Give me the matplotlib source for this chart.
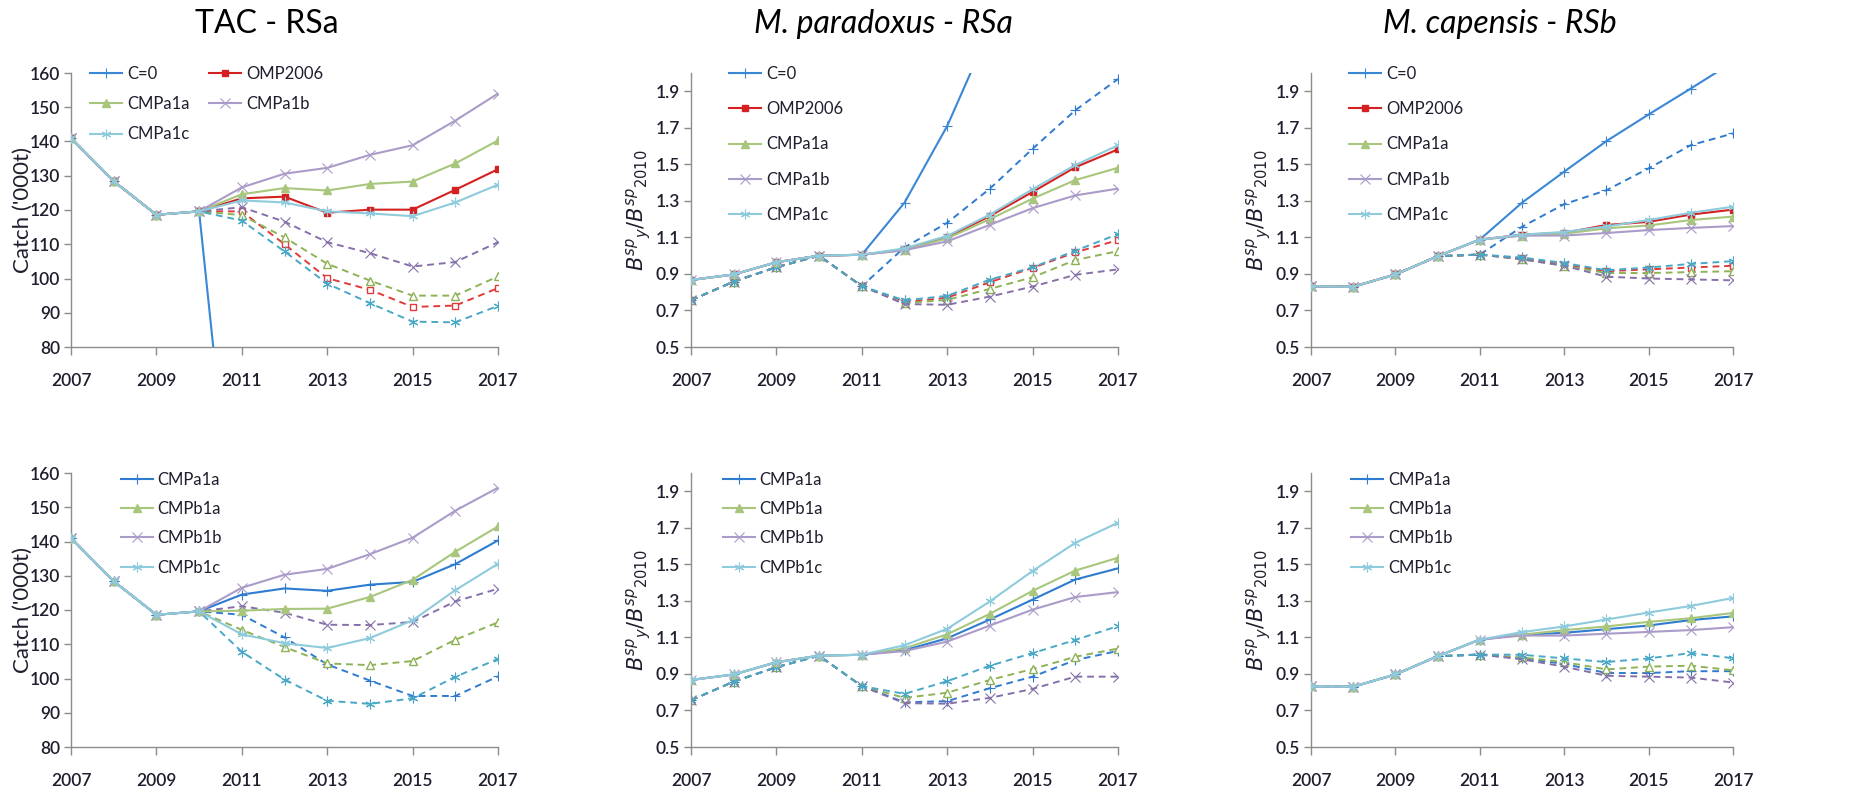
import matplotlib
matplotlib.use("Agg")
import matplotlib.pyplot as plt
from matplotlib.lines import Line2D

plt.rcParams["font.family"] = ["Lato", "DejaVu Sans"]

years = list(range(2007, 2018))

# ---- catch (TAC) ----
catch_hist = [141.0, 128.4, 118.6, 119.6]
catch_top_solid = {
    "C=0": [0, 0, 0, 0, 0, 0, 0],
    "OMP2006": [123.4, 123.9, 119.2, 120.1, 120.1, 125.9, 131.9],
    "CMPa1a": [124.6, 126.4, 125.7, 127.6, 128.3, 133.6, 140.3],
    "CMPa1b": [126.6, 130.6, 132.3, 136.1, 138.9, 146.1, 154.0],
    "CMPa1c": [122.8, 122.2, 119.6, 119.0, 118.2, 122.2, 127.4],
}
catch_top_dashed = {
    "OMP2006": [119.6, 110.0, 100.1, 96.7, 91.7, 92.1, 97.2],
    "CMPa1a": [118.5, 112.0, 104.3, 99.4, 95.0, 95.0, 100.6],
    "CMPa1b": [120.8, 116.6, 110.6, 107.4, 103.5, 104.8, 110.6],
    "CMPa1c": [116.9, 107.9, 98.5, 92.8, 87.4, 87.2, 92.0],
}
catch_bot_solid = {
    "CMPa1a": [124.5, 126.3, 125.6, 127.4, 128.2, 133.4, 140.3],
    "CMPb1a": [119.8, 120.3, 120.4, 123.8, 128.8, 137.0, 144.4],
    "CMPb1b": [126.5, 130.3, 132.0, 136.3, 141.1, 149.0, 155.7],
    "CMPb1c": [112.9, 110.3, 108.9, 111.8, 117.0, 125.8, 133.5],
}
catch_bot_dashed = {
    "CMPa1a": [118.6, 112.0, 104.1, 99.4, 94.9, 94.9, 100.6],
    "CMPb1a": [114.2, 109.2, 104.4, 103.9, 105.1, 111.3, 116.4],
    "CMPb1b": [121.1, 119.2, 115.7, 115.6, 116.5, 122.5, 126.2],
    "CMPb1c": [107.8, 99.7, 93.5, 92.6, 94.2, 100.5, 105.7],
}

# ---- M. paradoxus ----
para_hist_a = [0.867, 0.897, 0.964, 1.0, 1.005]
para_hist_b = [0.756, 0.858, 0.937, 1.0, 0.833]
para_top_solid = {
    "C=0": [1.29, 1.71, 2.24, 2.80, 3.30, 3.80],
    "OMP2006": [1.035, 1.10, 1.217, 1.349, 1.484, 1.582],
    "CMPa1a": [1.03, 1.095, 1.20, 1.312, 1.414, 1.481],
    "CMPa1b": [1.03, 1.078, 1.169, 1.26, 1.33, 1.367],
    "CMPa1c": [1.04, 1.108, 1.225, 1.364, 1.496, 1.604],
}
para_top_dashed = {
    "C=0": [1.045, 1.18, 1.367, 1.585, 1.796, 1.967],
    "OMP2006": [0.745, 0.77, 0.855, 0.933, 1.018, 1.085],
    "CMPa1a": [0.74, 0.758, 0.818, 0.882, 0.976, 1.025],
    "CMPa1b": [0.735, 0.731, 0.776, 0.831, 0.895, 0.925],
    "CMPa1c": [0.755, 0.78, 0.869, 0.936, 1.027, 1.118],
}
para_bot_solid = {
    "CMPa1a": [1.03, 1.095, 1.198, 1.307, 1.417, 1.478],
    "CMPb1a": [1.04, 1.117, 1.229, 1.355, 1.466, 1.536],
    "CMPb1b": [1.025, 1.077, 1.165, 1.252, 1.321, 1.348],
    "CMPb1c": [1.057, 1.147, 1.297, 1.464, 1.618, 1.728],
}
para_bot_dashed = {
    "CMPa1a": [0.745, 0.751, 0.822, 0.885, 0.976, 1.026],
    "CMPb1a": [0.769, 0.797, 0.867, 0.927, 0.994, 1.039],
    "CMPb1b": [0.74, 0.737, 0.769, 0.818, 0.885, 0.885],
    "CMPb1c": [0.791, 0.86, 0.945, 1.014, 1.086, 1.162],
}

# ---- M. capensis ----
cap_hist_a = [0.832, 0.830, 0.897, 0.997, 1.088]
cap_hist_b = [0.832, 0.830, 0.897, 0.997, 1.006]
cap_top_solid = {
    "C=0": [1.29, 1.46, 1.627, 1.773, 1.915, 2.06],
    "OMP2006": [1.115, 1.125, 1.168, 1.185, 1.225, 1.252],
    "CMPa1a": [1.11, 1.12, 1.15, 1.165, 1.195, 1.214],
    "CMPa1b": [1.11, 1.11, 1.124, 1.14, 1.152, 1.162],
    "CMPa1c": [1.115, 1.13, 1.16, 1.195, 1.235, 1.268],
}
cap_top_dashed = {
    "C=0": [1.158, 1.282, 1.358, 1.478, 1.605, 1.669],
    "OMP2006": [0.985, 0.95, 0.915, 0.925, 0.935, 0.945],
    "CMPa1a": [0.98, 0.945, 0.905, 0.905, 0.91, 0.915],
    "CMPa1b": [0.98, 0.945, 0.885, 0.875, 0.87, 0.865],
    "CMPa1c": [0.99, 0.96, 0.92, 0.935, 0.955, 0.97],
}
cap_bot_solid = {
    "CMPa1a": [1.115, 1.125, 1.145, 1.165, 1.195, 1.215],
    "CMPb1a": [1.115, 1.14, 1.16, 1.185, 1.205, 1.234],
    "CMPb1b": [1.11, 1.11, 1.12, 1.13, 1.14, 1.156],
    "CMPb1c": [1.129, 1.16, 1.198, 1.236, 1.272, 1.316],
}
cap_bot_dashed = {
    "CMPa1a": [0.985, 0.955, 0.905, 0.905, 0.915, 0.915],
    "CMPb1a": [0.99, 0.965, 0.925, 0.94, 0.945, 0.92],
    "CMPb1b": [0.98, 0.94, 0.89, 0.885, 0.88, 0.853],
    "CMPb1c": [1.005, 0.985, 0.965, 0.985, 1.014, 0.986],
}

titles = ["TAC - RSa", "M. paradoxus - RSa", "M. capensis - RSb"]

# style per series name: (solid colour, dashed colour, marker)
asterisk = (6, 2, 0)
STYLE = {
    "C=0": ("#3a87d6", "#2f7bd0", "+"),
    "OMP2006": ("#d42020", "#e03a3a", "s"),
    "CMPa1a": ("#a8c67c", "#8fb256", "^"),
    "CMPa1b": ("#ab9bc9", "#8670a9", "x"),
    "CMPa1c": ("#8ecbdc", "#48a8c6", asterisk),
}
STYLE_BOT = {
    "CMPa1a": ("#2e7cd0", "#2f7bd0", "+"),
    "CMPb1a": ("#a8c67c", "#8fb256", "^"),
    "CMPb1b": ("#ab9bc9", "#8670a9", "x"),
    "CMPb1c": ("#8ecbdc", "#48a8c6", asterisk),
}
HOLLOW = {"s", "^"}

TEXT_C = "#1e1e2e"
SPINE_C = "#8c8c8c"

fig = plt.figure(figsize=(18.68, 7.92), dpi=100)

lefts = [71, 691, 1311]
widths = [427, 427, 422]
tops = [73, 473]
height = 274
W, H = 1868, 792


def marker_kw(mk, col, fc):
    if mk == "s":
        return dict(marker=mk, ms=4.5, mfc=fc, mec=col, mew=1.0)
    if mk == "^":
        return dict(marker=mk, ms=6, mfc=fc, mec=col, mew=1.0)
    return dict(marker=mk, ms=7, mfc=col, mec=col, mew=0.8)


def draw_panel(ax, hist_solid, hist_dashed, solid, dashed, style, ylim, yticks, fmt):
    handles = []
    for name, vals in dashed.items():
        _, col, mk = style[name]
        fc = "white" if mk in HOLLOW else col
        ax.plot(years, hist_dashed + vals, color=col, lw=1.4, ls=(0, (3.5, 2.5)),
                zorder=2, **marker_kw(mk, col, fc))
    for name, vals in solid.items():
        col, _, mk = style[name]
        ax.plot(years, hist_solid + vals, color=col, lw=1.5, zorder=3,
                **marker_kw(mk, col, col))
        handles.append(Line2D([], [], color=col, lw=1.5, **marker_kw(mk, col, col)))
    ax.set_xlim(2007, 2017)
    ax.set_ylim(*ylim)
    ax.set_xticks(range(2007, 2018, 2))
    ax.set_yticks(yticks)
    ax.set_yticklabels([fmt.format(v) for v in yticks])
    for s in ["top", "right"]:
        ax.spines[s].set_visible(False)
    for s in ["left", "bottom"]:
        ax.spines[s].set_color(SPINE_C)
        ax.spines[s].set_linewidth(1.0)
    ax.tick_params(axis="x", direction="out", length=6, width=1.0, color=SPINE_C,
                   labelsize=12.5, labelcolor=TEXT_C, pad=13)
    ax.tick_params(axis="y", direction="out", length=5, width=1.0, color=SPINE_C,
                   labelsize=12.5, labelcolor=TEXT_C, pad=3)
    for lab in ax.get_xticklabels() + ax.get_yticklabels():
        lab.set_fontweight("semibold")
    return handles


for row in range(2):
    for col in range(3):
        rect = [lefts[col] / W, 1 - (tops[row] + height) / H, widths[col] / W, height / H]
        ax = fig.add_axes(rect)
        if col == 0:
            yt = list(range(80, 161, 10))
            if row == 0:
                h = draw_panel(ax, catch_hist, catch_hist, catch_top_solid, catch_top_dashed,
                               STYLE, (80, 160), yt, "{:.0f}")
            else:
                h = draw_panel(ax, catch_hist, catch_hist, catch_bot_solid, catch_bot_dashed,
                               STYLE_BOT, (80, 160), yt, "{:.0f}")
            ax.set_ylabel("Catch ('000t)", fontsize=16, color=TEXT_C)
        else:
            ticks = [0.5, 0.7, 0.9, 1.1, 1.3, 1.5, 1.7, 1.9]
            if col == 1:
                ha, hb = para_hist_a, para_hist_b
                s_top, d_top, s_bot, d_bot = para_top_solid, para_top_dashed, para_bot_solid, para_bot_dashed
            else:
                ha, hb = cap_hist_a, cap_hist_b
                s_top, d_top, s_bot, d_bot = cap_top_solid, cap_top_dashed, cap_bot_solid, cap_bot_dashed
            if row == 0:
                h = draw_panel(ax, ha, hb, s_top, d_top, STYLE, (0.5, 2.0), ticks, "{:.1f}")
            else:
                h = draw_panel(ax, ha, hb, s_bot, d_bot, STYLE_BOT, (0.5, 2.0), ticks, "{:.1f}")
            ax.set_ylabel(r"$B^{sp}{}_{y}/B^{sp}{}_{2010}$", fontsize=15, color=TEXT_C)
        ax.yaxis.set_label_coords(-0.09, 0.5)

        names = list((catch_top_solid if row == 0 else catch_bot_solid).keys())
        common = dict(loc="upper left", frameon=False, fontsize=12,
                      handlelength=1.9, handletextpad=0.3)
        if row == 0 and col == 0:
            order = [0, 2, 4, 1, 3]
            leg = ax.legend([h[i] for i in order], [names[i] for i in order], ncol=2,
                            bbox_to_anchor=(0.01, 1.08), labelspacing=0.85,
                            columnspacing=1.2, **common)
        elif row == 0:
            leg = ax.legend(h, names, bbox_to_anchor=(0.055, 1.08), labelspacing=1.15, **common)
        else:
            x0 = [0.082, 0.04, 0.06][col]
            leg = ax.legend(h, names, bbox_to_anchor=(x0, 1.06), labelspacing=0.8, **common)
        for t in leg.get_texts():
            t.set_color(TEXT_C)

        if row == 0:
            centers = [267, 883, 1500]
            fig.text(centers[col] / W, 1 - 24 / H, titles[col], ha="center", va="center",
                     fontsize=23, color="black", style="normal" if col == 0 else "italic")

fig.savefig("out.png", dpi=100)
